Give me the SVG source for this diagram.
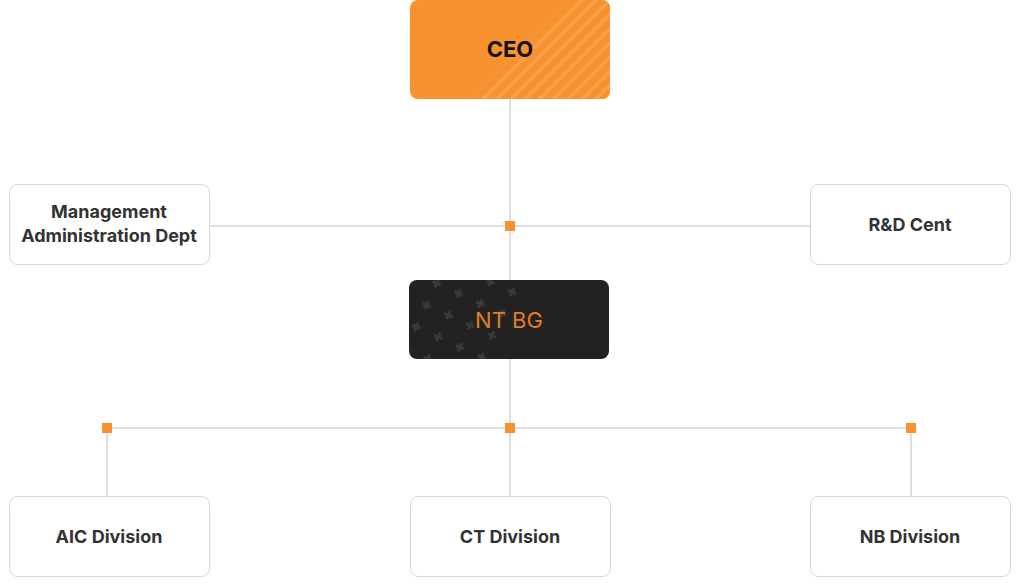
<svg xmlns="http://www.w3.org/2000/svg" width="1020" height="586" viewBox="0 0 1020 586">
<style>
.box{fill:#fff;stroke:#d6d6d6;stroke-width:1}
.t{font-family:Inter,"Liberation Sans",sans-serif;font-weight:700;font-size:18px;fill:#333;text-anchor:middle}
.ln{stroke:#bdbdbd;stroke-width:1;fill:none}
.sq{fill:#f7922f}
</style>
<defs>
<pattern id="str" width="10" height="10" patternUnits="userSpaceOnUse" patternTransform="rotate(-45)">
<rect width="10" height="10" fill="#f7922f"/><rect width="10" height="3" fill="#f9a14d"/>
</pattern>
<pattern id="crs" width="34" height="34" patternUnits="userSpaceOnUse" patternTransform="rotate(-20)">
<g fill="#3a3a3a"><path d="M3 6h3v-3h3v3h3v3h-3v3h-3v-3h-3z" transform="rotate(45 7.5 7.5)"/><path d="M20 23h3v-3h3v3h3v3h-3v3h-3v-3h-3z" transform="rotate(45 24.5 24.5)"/></g>
</pattern>
<clipPath id="cc"><polygon points="470,99 570,0 610,0 610,99"/></clipPath>
<clipPath id="nc"><polygon points="410,280 530,280 490,359 410,359"/></clipPath>
</defs>
<g id="connectors">
<path class="ln" d="M510 99V496M210 226H810M107 428H911M107 428V496M911 428V496"/>
<rect class="sq" x="505" y="221" width="10" height="10"/>
<rect class="sq" x="102" y="423" width="10" height="10"/>
<rect class="sq" x="505" y="423" width="10" height="10"/>
<rect class="sq" x="906" y="423" width="10" height="10"/>
</g>
<g id="ceo">
<rect x="410" y="0" width="200" height="99" rx="8" fill="#f7922f"/>
<rect x="410" y="0" width="200" height="99" rx="8" fill="url(#str)" clip-path="url(#cc)"/>
<text class="t" x="510" y="57" style="font-size:22px;fill:#111">CEO</text>
</g>
<g id="mgmt"><rect class="box" x="9.5" y="184.5" width="200" height="80" rx="8"/>
<text class="t" x="109" y="218">Management</text><text class="t" x="109" y="242">Administration Dept</text></g>
<g id="rd"><rect class="box" x="810.5" y="184.5" width="200" height="80" rx="8"/>
<text class="t" x="910" y="231">R&amp;D Cent</text></g>
<g id="ntbg">
<rect x="409" y="280" width="200" height="79" rx="8" fill="#222"/>
<rect x="409" y="280" width="200" height="79" rx="8" fill="url(#crs)" clip-path="url(#nc)"/>
<text x="509" y="328" style="font-family:Inter,'Liberation Sans',sans-serif;font-size:22px;fill:#e07f25;text-anchor:middle">NT BG</text>
</g>
<g id="aic"><rect class="box" x="9.5" y="496.5" width="200" height="80" rx="8"/><text class="t" x="109" y="543">AIC Division</text></g>
<g id="ct"><rect class="box" x="410.5" y="496.5" width="200" height="80" rx="8"/><text class="t" x="510" y="543">CT Division</text></g>
<g id="nb"><rect class="box" x="810.5" y="496.5" width="200" height="80" rx="8"/><text class="t" x="910" y="543">NB Division</text></g>
</svg>
